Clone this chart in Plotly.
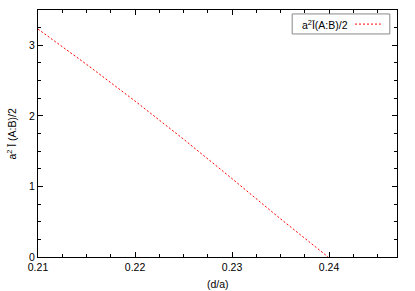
import plotly.graph_objects as go

# data
d_over_a = [0.210, 0.215, 0.220, 0.225, 0.230, 0.235, 0.2399]
mutual_info = [3.23, 2.73, 2.21, 1.67, 1.11, 0.54, 0.0]
series_name = "a<sup>2</sup>Ī(A:B)/2"
x_ticks = [0.21, 0.22, 0.23, 0.24]
y_ticks = [0, 1, 2, 3]

FONT = "Liberation Sans, Arial, sans-serif"
RED = "#ff0000"
FS = 10.5

fig = go.Figure()
fig.add_trace(go.Scatter(
    x=d_over_a, y=mutual_info, mode="lines", name=series_name,
    line=dict(color=RED, width=1, dash="2px,2px"), showlegend=False,
))

axis_common = dict(
    showgrid=False, zeroline=False, showline=True, linecolor="black", linewidth=1,
    mirror="allticks", ticks="inside", ticklen=5, tickcolor="black", tickwidth=1,
    tickfont=dict(family=FONT, size=FS, color="black"), automargin=False,
)
fig.update_xaxes(
    range=[0.21, 0.247], tickvals=x_ticks, ticktext=[f"{v:.2f}" for v in x_ticks],
    minor=dict(dtick=0.0025, tick0=0.21, ticks="inside", ticklen=3, tickcolor="black"),
    **axis_common,
)
fig.update_yaxes(
    range=[0, 3.5], tickvals=y_ticks, ticktext=[str(v) for v in y_ticks],
    minor=dict(dtick=0.25, tick0=0, ticks="inside", ticklen=3, tickcolor="black"),
    **axis_common,
)

# axis titles
fig.add_annotation(xref="paper", yref="paper", x=0.5, y=-0.075, xanchor="center", yanchor="top",
                   text="(d/a)", showarrow=False, font=dict(family=FONT, size=FS, color="black"))
fig.add_annotation(xref="paper", yref="paper", x=-0.075, y=0.5, xanchor="center", yanchor="middle",
                   text="a<sup>2</sup> Ī (A:B)/2", textangle=-90, showarrow=False,
                   font=dict(family=FONT, size=FS, color="black"))

# gnuplot-style key: boxed, text followed by sample line
fig.add_shape(type="rect", xref="paper", yref="paper", x0=0.708, x1=0.98, y0=0.903, y1=0.984,
              line=dict(color="#888888", width=1), fillcolor="white")
fig.add_annotation(xref="paper", yref="paper", x=0.868, y=0.943, xanchor="right", yanchor="middle",
                   text=series_name, showarrow=False, font=dict(family=FONT, size=FS, color="black"))
fig.add_shape(type="line", xref="paper", yref="paper", x0=0.883, x1=0.955, y0=0.943, y1=0.943,
              line=dict(color=RED, width=1, dash="2px,2px"))

fig.update_layout(
    width=415, height=291, margin=dict(l=38, r=18, t=10, b=34),
    paper_bgcolor="white", plot_bgcolor="white",
    font=dict(family=FONT, size=FS, color="black"),
)
fig.write_html("out.html", config={"displayModeBar": False},
               post_script="document.body.style.margin='0px';")
